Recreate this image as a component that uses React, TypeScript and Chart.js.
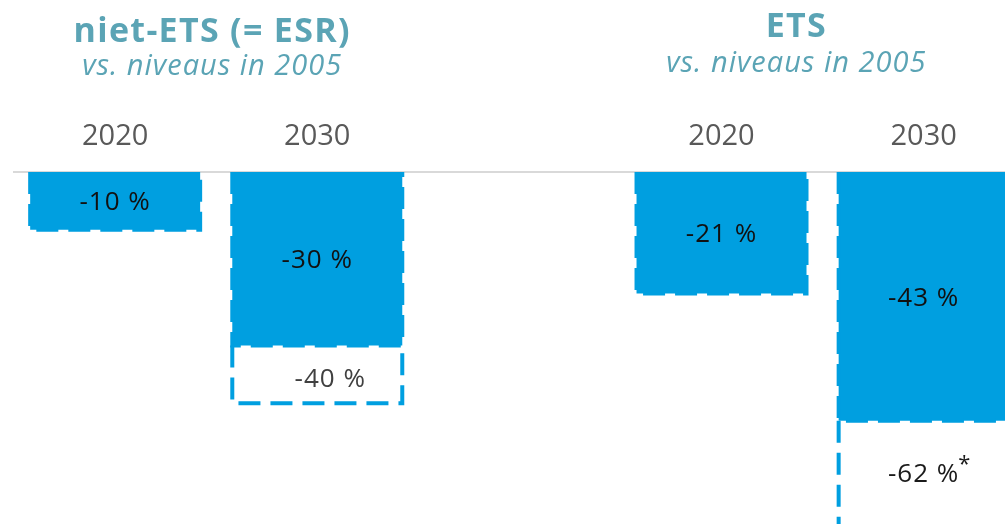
import React, { useEffect, useRef } from "react";
import { Chart, registerables } from "chart.js";

Chart.register(...registerables);

// ---- data ----
const categories = ["2020", "2030", "", "2020", "2030"];
const achieved: (number | null)[] = [-10, -30, null, -21, -43];
const targets: (number | null)[] = [null, -40, null, null, -62];
const achievedLabels = ["-10 %", "-30 %", "", "-21 %", "-43 %"];
const targetLabels = ["", "-40 %", "", "", "-62 %"];
const targetNotes = ["", "", "", "", "*"];
const groupTitles = ["niet-ETS (= ESR)", "ETS"];
const groupSubtitles = ["vs. niveaus in 2005", "vs. niveaus in 2005"];

// ---- styles ----
const FONT = "'Open Sans', 'Noto Sans', sans-serif";
const BLUE = "#009fe0";
const TEAL = "#5ba4b5";
const groupAnchors = [0.48, 3.37]; // in category units
const titleBaselines = [42, 37];
const subtitleBaselines = [75, 72];
const targetLabelShift = [
  [0, 0],
  [13, 5],
  [0, 0],
  [0, 0],
  [0, -1],
];

const dashPlugin = {
  id: "dashedBorders",
  afterDatasetsDraw(chart: any) {
    const ctx = chart.ctx as CanvasRenderingContext2D;
    ctx.save();
    ctx.strokeStyle = BLUE;
    ctx.lineWidth = 4;
    ctx.setLineDash([22, 10]);
    for (let d = 0; d < chart.data.datasets.length; d++) {
      const meta = chart.getDatasetMeta(d);
      meta.data.forEach((el: any, i: number) => {
        const v = chart.data.datasets[d].data[i];
        if (v == null) return;
        const { x, y, base, width } = el.getProps(["x", "y", "base", "width"], true);
        const top = Math.min(y, base);
        const bottom = Math.max(y, base);
        const left = x - width / 2;
        const right = x + width / 2;
        ctx.beginPath();
        ctx.moveTo(left, top);
        ctx.lineTo(left, bottom);
        ctx.lineTo(right, bottom);
        ctx.lineTo(right, top);
        ctx.stroke();
      });
    }
    ctx.restore();
  },
};

const textPlugin = {
  id: "texts",
  afterDraw(chart: any) {
    const ctx = chart.ctx as any;
    const xs = chart.scales.x;
    ctx.save();
    ctx.textAlign = "center";
    ctx.textBaseline = "middle";
    ctx.letterSpacing = "1px";
    ctx.font = `26px ${FONT}`;
    const m0 = chart.getDatasetMeta(0);
    m0.data.forEach((el: any, i: number) => {
      if (!achievedLabels[i] || achieved[i] == null) return;
      const { x, y, base } = el.getProps(["x", "y", "base"], true);
      ctx.fillStyle = "#111111";
      ctx.fillText(achievedLabels[i], x, (y + base) / 2 + 2);
    });
    const m1 = chart.getDatasetMeta(1);
    m1.data.forEach((el: any, i: number) => {
      if (!targetLabels[i] || targets[i] == null) return;
      const { x, y, base } = el.getProps(["x", "y", "base"], true);
      const cx = x + targetLabelShift[i][0];
      const cy = (y + base) / 2 + targetLabelShift[i][1];
      ctx.font = `26px ${FONT}`;
      ctx.textAlign = "center";
      ctx.textBaseline = "middle";
      ctx.fillStyle = i === 1 ? "#404040" : "#1a1a1a";
      ctx.fillText(targetLabels[i], cx, cy);
      if (targetNotes[i]) {
        const w = ctx.measureText(targetLabels[i]).width;
        ctx.font = `22px ${FONT}`;
        ctx.textAlign = "left";
        ctx.fillText(targetNotes[i], cx + w / 2 - 1, cy - 10);
      }
    });

    // group titles
    ctx.textAlign = "center";
    ctx.textBaseline = "alphabetic";
    groupTitles.forEach((t, g) => {
      const gx = xs.getPixelForValue(groupAnchors[g]);
      ctx.fillStyle = TEAL;
      ctx.letterSpacing = "1.3px";
      ctx.font = `bold 34px ${FONT}`;
      ctx.fillText(t, gx, titleBaselines[g]);
      ctx.letterSpacing = "1px";
      ctx.font = `italic 29px ${FONT}`;
      ctx.fillText(groupSubtitles[g], gx, subtitleBaselines[g]);
    });
    ctx.restore();
  },
};

export default function App() {
  const ref = useRef<HTMLCanvasElement | null>(null);
  useEffect(() => {
    if (!ref.current) return;
    const chart = new Chart(ref.current, {
      type: "bar",
      data: {
        labels: categories,
        datasets: [
          {
            label: "behaald",
            data: achieved,
            backgroundColor: BLUE,
            borderWidth: 0,
            grouped: false,
            barPercentage: 0.841,
            categoryPercentage: 1,
          } as any,
          {
            label: "doel",
            data: targets.map((t, i) =>
              t == null || achieved[i] == null ? null : [achieved[i] as number, t]
            ),
            backgroundColor: "rgba(255,255,255,0)",
            borderWidth: 0,
            grouped: false,
            barPercentage: 0.841,
            categoryPercentage: 1,
          } as any,
        ],
      },
      options: {
        animation: false,
        responsive: true,
        maintainAspectRatio: false,
        layout: { padding: { left: 14.1, right: 15.3, top: 101.2, bottom: 14.4 } },
        plugins: {
          legend: { display: false },
          tooltip: { enabled: false },
          title: { display: false },
        },
        scales: {
          x: {
            type: "category",
            position: "top",
            offset: true,
            grid: { display: false, drawTicks: false, tickLength: 0 },
            border: { display: true, color: "#d9d9d9", width: 2 },
            ticks: {
              color: "#595959",
              font: { family: FONT, size: 29 },
              padding: 18,
              autoSkip: false,
              maxRotation: 0,
            },
          },
          y: {
            display: false,
            min: -62,
            max: 0,
          },
        },
      },
      plugins: [dashPlugin, textPlugin],
    });
    return () => chart.destroy();
  }, []);

  return (
    <div
      style={{
        position: "fixed",
        left: 0,
        top: 0,
        width: 1005,
        height: 524,
        overflow: "hidden",
        background: "#ffffff",
      }}
    >
      <div style={{ position: "relative", width: 1040, height: 545 }}>
        <canvas ref={ref} />
      </div>
    </div>
  );
}
